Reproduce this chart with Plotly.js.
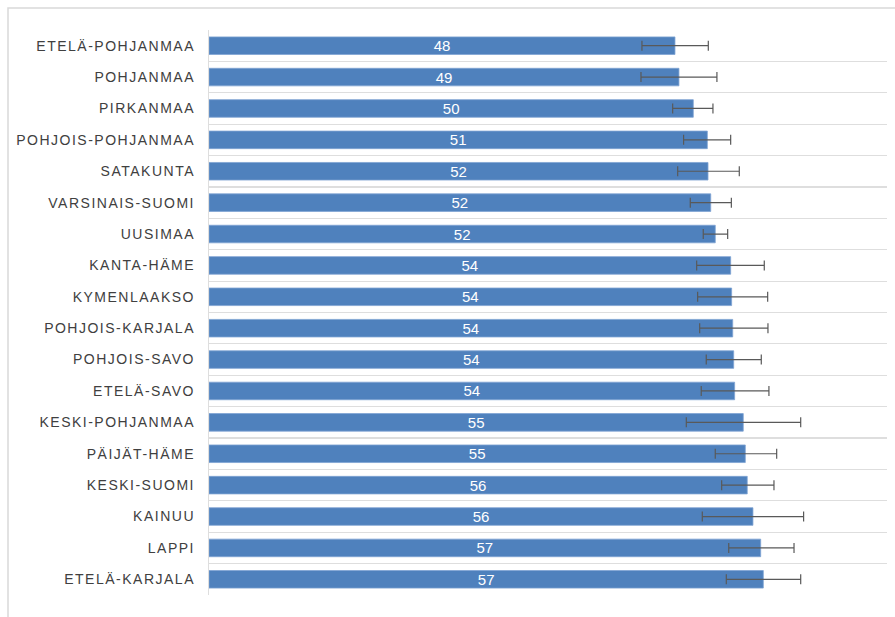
<!DOCTYPE html>
<html>
<head>
<meta charset="utf-8">
<script src="https://cdn.plot.ly/plotly-3.0.1.min.js"></script>
<style>
  html, body { margin: 0; padding: 0; background: #ffffff; }
  #chart { width: 895px; height: 617px; }
  .ytick text { letter-spacing: 1.5px; }
</style>
</head>
<body>
<div id="chart"></div>
<script>
const regions = [
  "ETELÄ-POHJANMAA", "POHJANMAA", "PIRKANMAA", "POHJOIS-POHJANMAA", "SATAKUNTA",
  "VARSINAIS-SUOMI", "UUSIMAA", "KANTA-HÄME", "KYMENLAAKSO", "POHJOIS-KARJALA",
  "POHJOIS-SAVO", "ETELÄ-SAVO", "KESKI-POHJANMAA", "PÄIJÄT-HÄME", "KESKI-SUOMI",
  "KAINUU", "LAPPI", "ETELÄ-KARJALA"
];
const values = [
  48.11, 48.52, 50.00, 51.45, 51.52,
  51.80, 52.27, 53.86, 53.96, 54.07,
  54.17, 54.27, 55.16, 55.37, 55.57,
  56.16, 56.96, 57.23
];
const errPlus = [
  3.44, 3.92, 2.03, 2.41, 3.23,
  2.13, 1.28, 3.47, 3.72, 3.64,
  2.85, 3.54, 5.93, 3.24, 2.76,
  5.23, 3.44, 3.86
];
const errMinus = [
  3.41, 3.92, 2.13, 2.45, 3.13,
  2.11, 1.24, 3.51, 3.51, 3.41,
  2.83, 3.45, 5.88, 3.10, 2.64,
  5.23, 3.30, 3.82
];

const trace = {
  type: "bar",
  orientation: "h",
  y: regions,
  x: values,
  marker: { color: "#4f81bd", line: { color: "#7fa3d3", width: 0.8 } },
  texttemplate: "%{x:.0f}",
  textposition: "inside",
  insidetextanchor: "middle",
  textangle: 0,
  constraintext: "none",
  textfont: { family: "Liberation Sans, Arial, sans-serif", size: 15, color: "#ffffff" },
  error_x: {
    type: "data",
    symmetric: false,
    array: errPlus,
    arrayminus: errMinus,
    color: "#595959",
    thickness: 1.2,
    width: 5
  },
  hoverinfo: "skip"
};

const layout = {
  width: 895,
  height: 617,
  margin: { l: 209, r: 8, t: 30, b: 22 },
  paper_bgcolor: "#ffffff",
  plot_bgcolor: "#ffffff",
  showlegend: false,
  bargap: 0.44,
  xaxis: {
    range: [0, 70],
    showgrid: false,
    zeroline: false,
    showticklabels: false,
    ticks: "",
    showline: false,
    fixedrange: true
  },
  yaxis: {
    type: "category",
    autorange: "reversed",
    showgrid: true,
    gridcolor: "#dedede",
    gridwidth: 1.2,
    tickson: "boundaries",
    ticks: "",
    showline: true,
    linecolor: "#dedede",
    linewidth: 1.2,
    ticklabelstandoff: 10,
    tickfont: { family: "Liberation Sans, Arial, sans-serif", size: 14, color: "#404040" },
    fixedrange: true
  },
  shapes: [{
    type: "rect",
    xref: "paper", yref: "paper",
    x0: (8 - 209) / 678, x1: (905 - 209) / 678,
    y0: (595 - 630) / 565, y1: (595 - 8) / 565,
    line: { color: "#d9d9d9", width: 1.5 },
    fillcolor: "rgba(0,0,0,0)",
    layer: "below"
  }]
};

Plotly.newPlot("chart", [trace], layout, { displayModeBar: false, staticPlot: true });
</script>
</body>
</html>
